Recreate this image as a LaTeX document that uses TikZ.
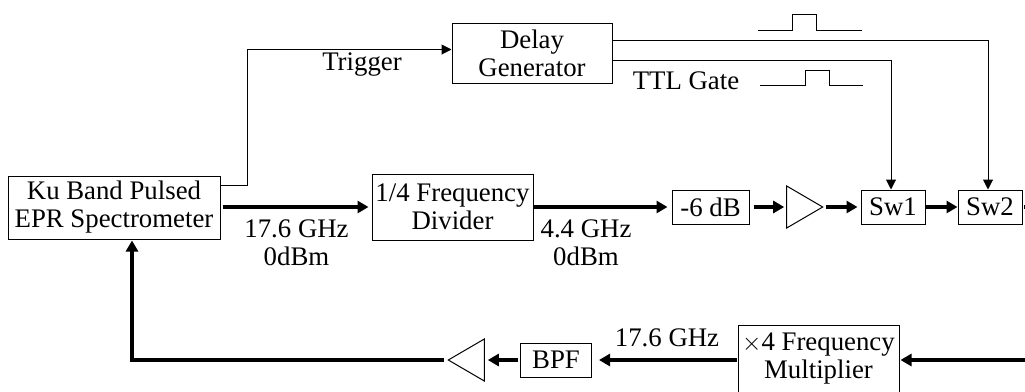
\documentclass[tikz,border=0pt]{standalone}
\usepackage{fontspec}
\setmainfont{Liberation Serif}
\usetikzlibrary{arrows.meta,shapes.geometric}
\tikzset{
  % node styles
  block/.style={draw,line width=1pt,inner sep=0pt,align=center},
  amp/.style={draw,line width=1pt,isosceles triangle,isosceles triangle stretches,minimum width=42pt,minimum height=36pt,inner sep=0pt},
  tag/.style={inner sep=0pt,align=center},
  % edge styles
  thin line/.style={draw,line width=1pt,-{Triangle[length=10pt,width=10pt]}},
  rf line/.style={draw,line width=4pt,-{Triangle[length=11pt,width=12pt]}},
  pulse/.style={draw,line width=1pt},
}
\begin{document}
\begin{tikzpicture}[x=1pt,y=-1pt,font=\fontsize{26.8}{28}\selectfont]
        \useasboundingbox (0,0) rectangle (1025,391);
        % Top row
        \node(Delay)[block,minimum width=160pt,minimum height=60pt] at(532,53){Delay\\Generator};
        \node(Trig)[tag] at(362,65){Trigger};
        \node(TTL)[tag] at(686,81){TTL Gate};
        % Middle row
        \node(Spec)[block,minimum width=212pt,minimum height=63pt] at(114,207.5){Ku Band Pulsed\\EPR Spectrometer};
        \node(Div)[block,minimum width=161pt,minimum height=66pt] at(452.5,207){1/4 Frequency\\Divider};
        \node(Att)[block,minimum width=77pt,minimum height=34pt] at(710.5,207){-6 dB};
        \node(Amp1)[amp,anchor=apex] at(824,207){};
        \node(Sw1)[block,minimum width=64pt,minimum height=34pt] at(893,207){Sw1};
        \node(Sw2)[block,minimum width=64pt,minimum height=34pt] at(990,207){Sw2};
        \node(F1)[tag] at(296.5,243){17.6 GHz\\0dBm};
        \node(F2)[tag] at(586,243){4.4 GHz\\0dBm};
        % Bottom row
        \node(Amp2)[amp,shape border rotate=180,anchor=apex] at(447,360){};
        \node(BPF)[block,minimum width=71pt,minimum height=34pt] at(556,360){BPF};
        \node(Mul)[block,minimum width=161pt,minimum height=76pt] at(818.5,363){$\times$4 Frequency\\Multiplier\\[-14pt]\mbox{}};
        \node(F3)[tag] at(667,338){17.6 GHz};
        % Free ends
        \coordinate(TrigBend) at(247,49.5);
        \coordinate(EndA) at(1025,207);
        \coordinate(EndB) at(1025,360);
        \coordinate(Corner) at(132,360);
        % Trigger and gates
        \draw[thin line] ([yshift=22.5pt]Spec.east) -| (TrigBend) -- ([yshift=3.5pt]Delay.west);
        \draw[thin line] ([yshift=13pt]Delay.east) -| ([xshift=-2pt]Sw2.north);
        \draw[thin line] ([yshift=-7.5pt]Delay.east) -| ([xshift=-2pt]Sw1.north);
        \draw[pulse] (758,30) -- (792,30) -- (792,14) -- (816,14) -- (816,30) -- (862,30);
        \draw[pulse] (759.5,85.5) -- (805,85.5) -- (805,70) -- (829,70) -- (829,85.5) -- (863,85.5);
        % Forward path
        \draw[rf line,shorten <=2pt,shorten >=3pt] (Spec.east |- Div.west) -- (Div.west);
        \draw[rf line,shorten >=4pt] (Div.east) -- (Att.west);
        \draw[rf line,shorten <=4pt,shorten >=2pt] (Att.east) -- (Amp1.lower side);
        \draw[rf line,shorten <=2pt,shorten >=3pt] (Amp1.apex) -- (Sw1.west);
        \draw[rf line] (Sw1.east) -- (Sw2.west);
        \draw[line width=4pt,shorten <=1pt] (Sw2.east) -- (EndA);
        % Return path
        \draw[rf line,shorten >=1pt] (EndB) -- (Mul.east |- EndB);
        \draw[rf line,shorten <=1pt,shorten >=7pt] (Mul.west |- EndB) -- (BPF.east);
        \draw[rf line,shorten <=2pt,shorten >=3pt] (BPF.west) -- (Amp2.lower side);
        \draw[rf line,shorten >=1pt,shorten <=3pt] (Amp2.apex) -- (Corner) -- (Corner |- Spec.south);
\end{tikzpicture}
\end{document}
